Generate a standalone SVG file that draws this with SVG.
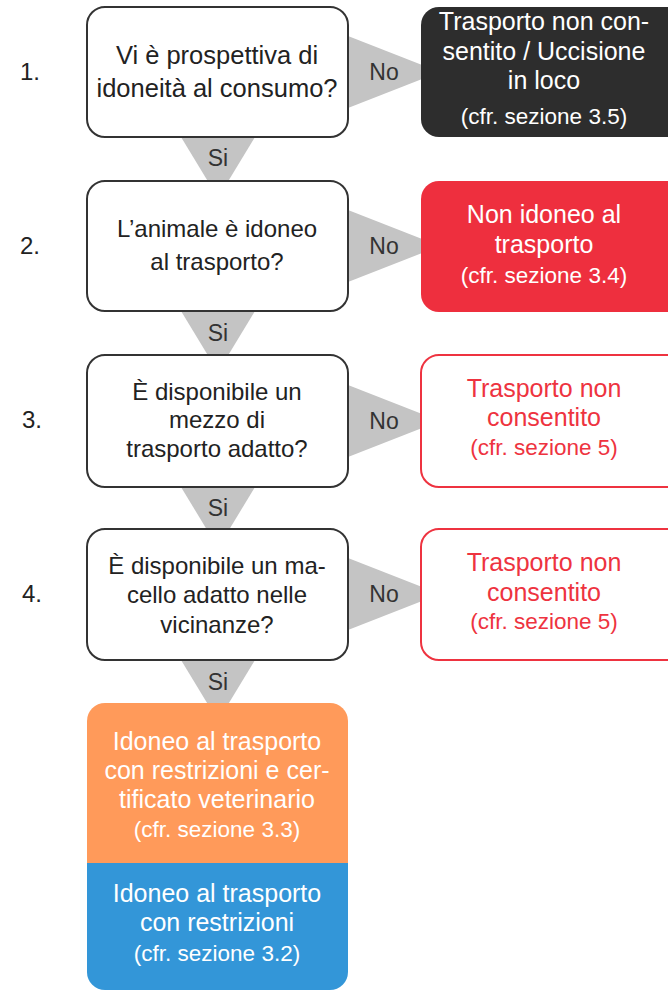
<svg xmlns="http://www.w3.org/2000/svg" width="668" height="990" viewBox="0 0 668 990">
<style>
text{font-family:"Liberation Sans",Arial,sans-serif;text-anchor:middle}
.q{fill:#fff;stroke:#333;stroke-width:2}
.qt{font-size:24px;fill:#222}
.qb{font-size:25.5px;fill:#222}
.num{font-size:24px;fill:#222;text-anchor:start}
.tri{fill:#c4c4c4}
.lbl{font-size:23px;fill:#333}
.w{fill:#fff;font-size:25px}
.ws{fill:#fff;font-size:22.5px}
.r{fill:#ee3340;font-size:25px}
.rs{fill:#ee3340;font-size:22.5px}
.ro{fill:#fff;stroke:#ee3340;stroke-width:2}
</style>
<rect width="668" height="990" fill="#fff"/>
<g id="connectors">
<polygon class="tri" points="181,137 255,137 218,198"/>
<polygon class="tri" points="181,311 255,311 218,372"/>
<polygon class="tri" points="181,487 255,487 218,548"/>
<polygon class="tri" points="181,660 255,660 218,721"/>
<polygon class="tri" points="348,36 348,108 440,72"/>
<polygon class="tri" points="348,210 348,282 440,246"/>
<polygon class="tri" points="348,385 348,457 440,421"/>
<polygon class="tri" points="348,558 348,630 440,594"/>
<text class="lbl" x="218" y="166">Si</text>
<text class="lbl" x="218" y="341">Si</text>
<text class="lbl" x="218" y="516">Si</text>
<text class="lbl" x="218" y="690">Si</text>
<text class="lbl" x="384" y="80">No</text>
<text class="lbl" x="384" y="254">No</text>
<text class="lbl" x="384" y="429">No</text>
<text class="lbl" x="384" y="602">No</text>
</g>
<g id="q1">
<text class="num" x="20" y="80">1.</text>
<rect class="q" x="87" y="7" width="261" height="130" rx="18"/>
<text class="qb" x="217" y="64">Vi è prospettiva di</text>
<text class="qb" x="217" y="97">idoneità al consumo?</text>
</g>
<g id="q2">
<text class="num" x="20" y="254">2.</text>
<rect class="q" x="87" y="181" width="261" height="130" rx="18"/>
<text class="qt" x="217" y="237">L’animale è idoneo</text>
<text class="qt" x="217" y="270">al trasporto?</text>
</g>
<g id="q3">
<text class="num" x="22" y="428">3.</text>
<rect class="q" x="87" y="355" width="261" height="132" rx="18"/>
<text class="qt" x="217" y="400">È disponibile un</text>
<text class="qt" x="217" y="428">mezzo di</text>
<text class="qt" x="217" y="457">trasporto adatto?</text>
</g>
<g id="q4">
<text class="num" x="22" y="602">4.</text>
<rect class="q" x="87" y="529" width="261" height="131" rx="18"/>
<text class="qt" x="217" y="574">È disponibile un ma-</text>
<text class="qt" x="217" y="603">cello adatto nelle</text>
<text class="qt" x="217" y="633">vicinanze?</text>
</g>
<g id="r1">
<rect x="421" y="7" width="270" height="130" rx="18" fill="#2d2d2d"/>
<text class="w" x="544" y="30">Trasporto non con-</text>
<text class="w" x="544" y="60">sentito / Uccisione</text>
<text class="w" x="544" y="89">in loco</text>
<text class="ws" x="544" y="124">(cfr. sezione 3.5)</text>
</g>
<g id="r2">
<rect x="421" y="181" width="270" height="131" rx="18" fill="#ee2f3e"/>
<text class="w" x="544" y="223">Non idoneo al</text>
<text class="w" x="544" y="253">trasporto</text>
<text class="ws" x="544" y="283">(cfr. sezione 3.4)</text>
</g>
<g id="r3">
<rect class="ro" x="421" y="355" width="270" height="132" rx="18"/>
<text class="r" x="544" y="397">Trasporto non</text>
<text class="r" x="544" y="426">consentito</text>
<text class="rs" x="544" y="455">(cfr. sezione 5)</text>
</g>
<g id="r4">
<rect class="ro" x="421" y="529" width="270" height="131" rx="18"/>
<text class="r" x="544" y="571">Trasporto non</text>
<text class="r" x="544" y="601">consentito</text>
<text class="rs" x="544" y="629">(cfr. sezione 5)</text>
</g>
<g id="res-orange">
<path d="M87,863 V721 A18,18 0 0 1 105,703 H330 A18,18 0 0 1 348,721 V863 Z" fill="#ff9a5a"/>
<text class="w" x="217" y="750">Idoneo al trasporto</text>
<text class="w" x="217" y="779">con restrizioni e cer-</text>
<text class="w" x="217" y="808">tificato veterinario</text>
<text class="ws" x="217" y="837">(cfr. sezione 3.3)</text>
</g>
<g id="res-blue">
<path d="M87,863 H348 V972 A18,18 0 0 1 330,990 H105 A18,18 0 0 1 87,972 Z" fill="#3396d8"/>
<text class="w" x="217" y="902">Idoneo al trasporto</text>
<text class="w" x="217" y="931">con restrizioni</text>
<text class="ws" x="217" y="961">(cfr. sezione 3.2)</text>
</g>
</svg>
